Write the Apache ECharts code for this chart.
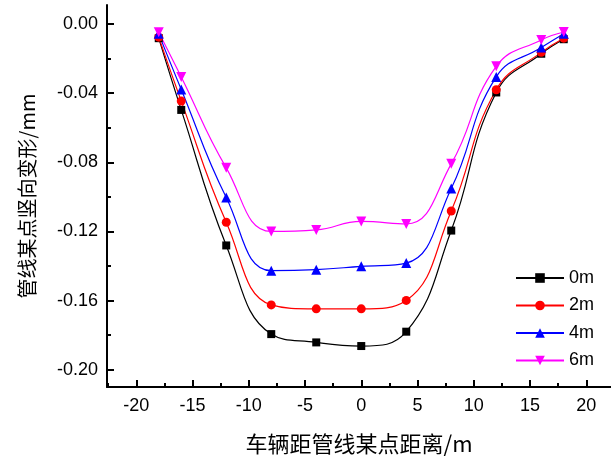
<!DOCTYPE html>
<html>
<head>
<meta charset="utf-8">
<script src="https://cdn.jsdelivr.net/npm/echarts@6/dist/echarts.min.js"></script>
<style>html,body{margin:0;padding:0;background:#fff;}#c{width:611px;height:460px;}</style>
</head>
<body>
<div id="c"></div>
<script>
var xValues = [-18, -16, -12, -8, -4, 0, 4, 8, 12, 16, 18];
var seriesNames = ['0m', '2m', '4m', '6m'];
var d0m = [-0.0082, -0.0497, -0.1281, -0.1794, -0.1842, -0.1863, -0.1780, -0.1195, -0.0396, -0.0172, -0.0088];
var d2m = [-0.0076, -0.0446, -0.1147, -0.1625, -0.1648, -0.1648, -0.1599, -0.1082, -0.0380, -0.0164, -0.0082];
var d4m = [-0.0057, -0.0379, -0.1004, -0.1427, -0.1421, -0.1402, -0.1383, -0.0952, -0.0306, -0.0136, -0.0056];
var d6m = [-0.0048, -0.0306, -0.0832, -0.1200, -0.1191, -0.1142, -0.1157, -0.0809, -0.0245, -0.0092, -0.0046];
var xMajorTicks = [-20, -15, -10, -5, 0, 5, 10, 15, 20];
var xMinorTicks = [-22.5, -17.5, -12.5, -7.5, -2.5, 2.5, 7.5, 12.5, 17.5];
var yMajorTicks = [0, -0.04, -0.08, -0.12, -0.16, -0.20];
var yMinorTicks = [-0.02, -0.06, -0.10, -0.14, -0.18];

function pairs(arr) { return xValues.map(function (x, i) { return [x, arr[i]]; }); }

var colors = ['#000000', '#FF0000', '#0000FF', '#FF00FF'];
var symbols = ['rect', 'circle', 'triangle', 'triangle'];
var rotations = [0, 0, 0, 180];
var sizes = [8, 9, 10, 10];
var dataSets = [d0m, d2m, d4m, d6m];

var font = '"Liberation Sans", Arial, sans-serif';
var cjk = '"Noto Sans CJK SC", sans-serif';
var XMIN = -22.6, XMAX = 22.2, YMIN = -0.21, YMAX = 0.011;

var chart = echarts.init(document.getElementById('c'), null, {renderer: 'canvas'});
chart.setOption({
  animation: false,
  backgroundColor: '#fff',
  grid: {left: 107, right: 0, top: 5, bottom: 70, containLabel: false},
  legend: {
    left: 515, top: 269, orient: 'vertical', padding: 0,
    itemWidth: 48, itemHeight: 12, itemGap: 9.5,
    textStyle: {fontFamily: font, fontSize: 18, color: '#000'},
    data: seriesNames
  },
  xAxis: [{
    type: 'value', min: XMIN, max: XMAX,
    axisLine: {show: true, onZero: false, lineStyle: {color: '#000', width: 2}},
    axisTick: {show: true, inside: true, length: 7, customValues: xMajorTicks, lineStyle: {color: '#000', width: 2}},
    axisLabel: {customValues: xMajorTicks, margin: 10, fontFamily: font, fontSize: 18, color: '#000',
      formatter: function (v) { return String(v); }},
    splitLine: {show: false},
    name: '车辆距管线某点距离/m', nameLocation: 'middle', nameGap: 46,
    nameTextStyle: {fontFamily: cjk, fontSize: 22, color: '#000', verticalAlign: 'top'}
  }, {
    type: 'value', min: XMIN, max: XMAX, position: 'bottom',
    axisLine: {show: false, onZero: false},
    axisTick: {show: true, inside: true, length: 4, customValues: xMinorTicks, lineStyle: {color: '#000', width: 2}},
    axisLabel: {show: false},
    splitLine: {show: false}
  }],
  yAxis: [{
    type: 'value', min: YMIN, max: YMAX,
    axisLine: {show: true, onZero: false, lineStyle: {color: '#000', width: 2}},
    axisTick: {show: true, inside: true, length: 7, customValues: yMajorTicks, lineStyle: {color: '#000', width: 2}},
    axisLabel: {customValues: yMajorTicks, margin: 9, fontFamily: font, fontSize: 18, color: '#000',
      formatter: function (v) { return v.toFixed(2); }},
    splitLine: {show: false},
    name: '管线某点竖向变形/mm', nameLocation: 'middle', nameGap: 70, nameRotate: 90,
    nameTextStyle: {fontFamily: cjk, fontSize: 20, color: '#000'}
  }, {
    type: 'value', min: YMIN, max: YMAX, position: 'left',
    axisLine: {show: false, onZero: false},
    axisTick: {show: true, inside: true, length: 4, customValues: yMinorTicks, lineStyle: {color: '#000', width: 2}},
    axisLabel: {show: false},
    splitLine: {show: false}
  }],
  series: seriesNames.map(function (n, i) {
    return {
      name: n, type: 'line', xAxisIndex: 0, yAxisIndex: 0,
      data: pairs(dataSets[i]),
      smooth: 0.45,
      symbol: symbols[i], symbolSize: sizes[i], symbolRotate: rotations[i], showAllSymbol: true,
      itemStyle: {color: colors[i]},
      lineStyle: {color: colors[i], width: 1.2}
    };
  })
});
</script>
</body>
</html>
